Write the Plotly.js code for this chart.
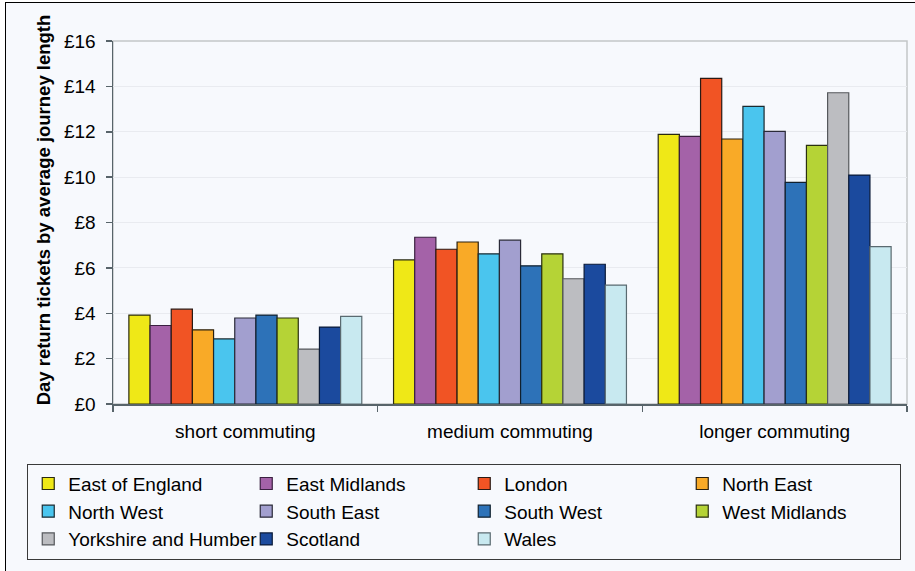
<!DOCTYPE html>
<html>
<head>
<meta charset="utf-8">
<script src="https://cdn.plot.ly/plotly-3.0.1.min.js"></script>
<style>
  html, body { margin: 0; padding: 0; background: #ffffff; overflow: hidden; }
  #frame {
    position: absolute; left: 5px; top: 2px; width: 960px; height: 620px;
    border-left: 1.5px solid #000; border-top: 1.5px solid #000;
    background: #f7f9fd;
  }
  #chart { position: absolute; left: 0; top: 0; width: 915px; height: 571px; }
</style>
</head>
<body>
<div id="frame"></div>
<div id="chart"></div>
<script>
// Average day return fares by region, grouped by commute length
const categories = ['short commuting', 'medium commuting', 'longer commuting'];

const regions = [
  'East of England', 'East Midlands', 'London', 'North East',
  'North West', 'South East', 'South West', 'West Midlands',
  'Yorkshire and Humber', 'Scotland', 'Wales'
];

const eastOfEngland      = [3.92, 6.35, 11.88];
const eastMidlands       = [3.46, 7.35, 11.80];
const london             = [4.18, 6.82, 14.35];
const northEast          = [3.27, 7.14, 11.68];
const northWest          = [2.87, 6.62, 13.12];
const southEast          = [3.79, 7.22, 12.02];
const southWest          = [3.92, 6.09, 9.77];
const westMidlands       = [3.79, 6.62, 11.40];
const yorkshireHumber    = [2.42, 5.52, 13.72];
const scotland           = [3.39, 6.16, 10.09];
const wales              = [3.86, 5.24, 6.94];

const seriesValues = [
  eastOfEngland, eastMidlands, london, northEast, northWest, southEast,
  southWest, westMidlands, yorkshireHumber, scotland, wales
];

const fillColors = [
  '#efe817', '#a462a8', '#f15424', '#f9aa27', '#4ac5ee', '#a29fcf',
  '#2d72b8', '#b5d336', '#bcbdc1', '#1b4a9e', '#c8e9f0'
];
const edgeColors = [
  '#2a2a10', '#3a2040', '#2a1a14', '#2a2010', '#1a2a30', '#2a2a38',
  '#10202e', '#2a3010', '#55585c', '#0a1a38', '#5a6a70'
];

const yTicks = [0, 2, 4, 6, 8, 10, 12, 14, 16];
const yTickLabels = ['£0', '£2', '£4', '£6', '£8', '£10', '£12', '£14', '£16'];

const FONT = 'Liberation Sans, Arial, sans-serif';

const traces = regions.map((name, i) => ({
  type: 'bar',
  name: name,
  x: categories,
  y: seriesValues[i],
  marker: { color: fillColors[i], line: { color: edgeColors[i], width: 1.2 } },
  hoverinfo: 'skip'
}));

const layout = {
  width: 915,
  height: 571,
  margin: { l: 113, r: 8, t: 41, b: 167 },
  paper_bgcolor: 'rgba(0,0,0,0)',
  plot_bgcolor: 'rgba(0,0,0,0)',
  font: { family: FONT, size: 19, color: '#000' },
  barmode: 'group',
  bargap: 0.12,
  bargroupgap: 0,
  showlegend: true,
  legend: {
    orientation: 'h',
    x: -0.108, xanchor: 'left',
    y: -0.1643, yanchor: 'top',
    entrywidth: 173,
    entrywidthmode: 'pixels',
    bgcolor: 'rgba(0,0,0,0)',
    bordercolor: '#3a3a3a',
    borderwidth: 1,
    traceorder: 'normal',
    font: { family: FONT, size: 19, color: '#000' }
  },
  xaxis: {
    type: 'category',
    showline: true, linecolor: '#58646a', linewidth: 1.5,
    ticks: 'outside', tickson: 'boundaries', ticklen: 6, tickcolor: '#58646a', tickwidth: 1.5,
    ticklabelstandoff: 10,
    showgrid: false, zeroline: false,
    tickfont: { family: FONT, size: 19, color: '#000' }
  },
  yaxis: {
    range: [0, 16],
    tickvals: yTicks,
    ticktext: yTickLabels,
    showline: true, linecolor: '#58646a', linewidth: 1.5,
    ticks: 'outside', ticklen: 6, tickcolor: '#58646a', tickwidth: 1.5,
    ticklabelstandoff: 6,
    showgrid: true, gridcolor: '#e9ebf0', gridwidth: 1,
    zeroline: false,
    tickfont: { family: FONT, size: 19, color: '#000' }
  },
  shapes: [{
    type: 'rect', xref: 'paper', yref: 'paper', x0: 0, x1: 1, y0: 0, y1: 1,
    line: { color: '#c4c6c8', width: 1.5 }, layer: 'below'
  }],
  annotations: [{
    text: '<b>Day return tickets by average journey length</b>',
    textangle: -90,
    xref: 'paper', yref: 'paper',
    x: -0.087, y: 0.536,
    xanchor: 'center', yanchor: 'middle',
    showarrow: false,
    font: { family: FONT, size: 18.5, color: '#000' }
  }]
};

Plotly.newPlot('chart', traces, layout, { displayModeBar: false, staticPlot: true });
</script>
</body>
</html>
